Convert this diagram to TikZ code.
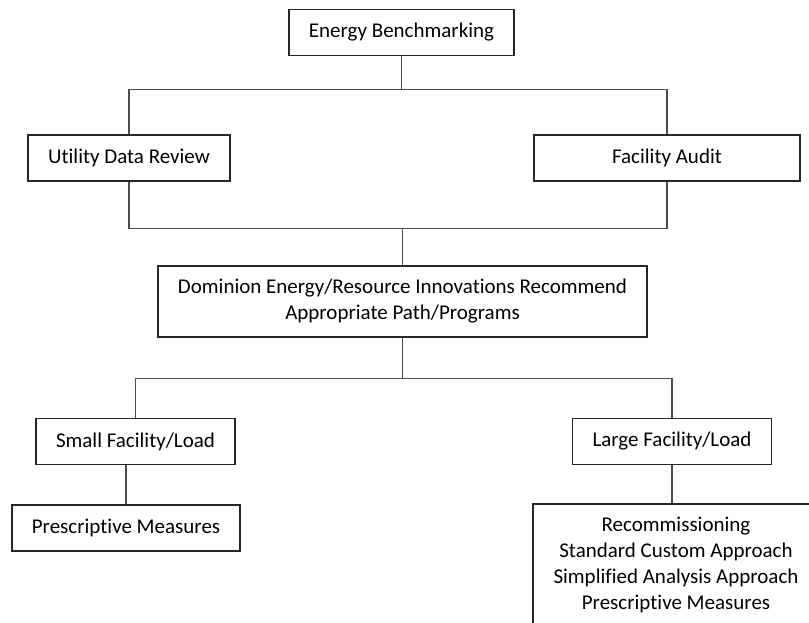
\documentclass[tikz,border=0pt]{standalone}
\usepackage{fontspec}
\setmainfont{Carlito}[Ligatures=NoCommon]
\usetikzlibrary{positioning}

\begin{document}
\begin{tikzpicture}[x=1pt, y=-1pt, thick,
    box/.style={draw=black!85, line width=1.5pt, fill=white, minimum height=46pt,
      inner xsep=20pt, font=\fontsize{21}{26}\selectfont, align=center},
    link/.style={draw=black!70, line width=1.1pt}]

  \useasboundingbox (0,0) rectangle (809,622);
  \clip (0,0) rectangle (809,622);

  % Define nodes
  \node[box] (Bench) at (401.5,32.5) {Energy Benchmarking};
  \node[box, below=78pt of Bench, xshift=-272.5pt] (Utility) {Utility Data Review};
  \node[box, below=78pt of Bench, xshift=265.5pt, minimum width=266pt] (Audit) {Facility Audit};
  \node[box, below=209pt of Bench, xshift=1pt, minimum height=71pt] (Dominion)
    {Dominion Energy/Resource Innovations Recommend\\Appropriate Path/Programs};
  \node[box, below=80pt of Dominion, xshift=-267pt] (Small) {Small Facility/Load};
  \node[box, below=80pt of Dominion, xshift=269.5pt] (Large) {Large Facility/Load};
  \node[box, below=39pt of Small, xshift=-9.5pt] (SmallPresc) {Prescriptive Measures};
  \node[box, below=38pt of Large, xshift=4pt, minimum width=286pt, minimum height=144pt] (LargeProg)
    {Recommissioning\\Standard Custom Approach\\Simplified Analysis Approach\\Prescriptive Measures\\\mbox{}};

  % Connect the nodes
  \draw[link] (Bench.south) -- ++(0,33) coordinate (Split1);
  \draw[link] (Utility.north) |- (Split1) -| (Audit.north);
  \draw[link] (Dominion.north) -- ++(0,-37) coordinate (Join1);
  \draw[link] (Utility.south) |- (Join1) -| (Audit.south);
  \draw[link] (Dominion.south) -- ++(0,41) coordinate (Split2);
  \draw[link] (Small.north) |- (Split2) -| (Large.north);
  \draw[link] (SmallPresc.north) -- (SmallPresc.north |- Small.south);
  \draw[link] (Large.south) -- (Large.south |- LargeProg.north);

\end{tikzpicture}
\end{document}
